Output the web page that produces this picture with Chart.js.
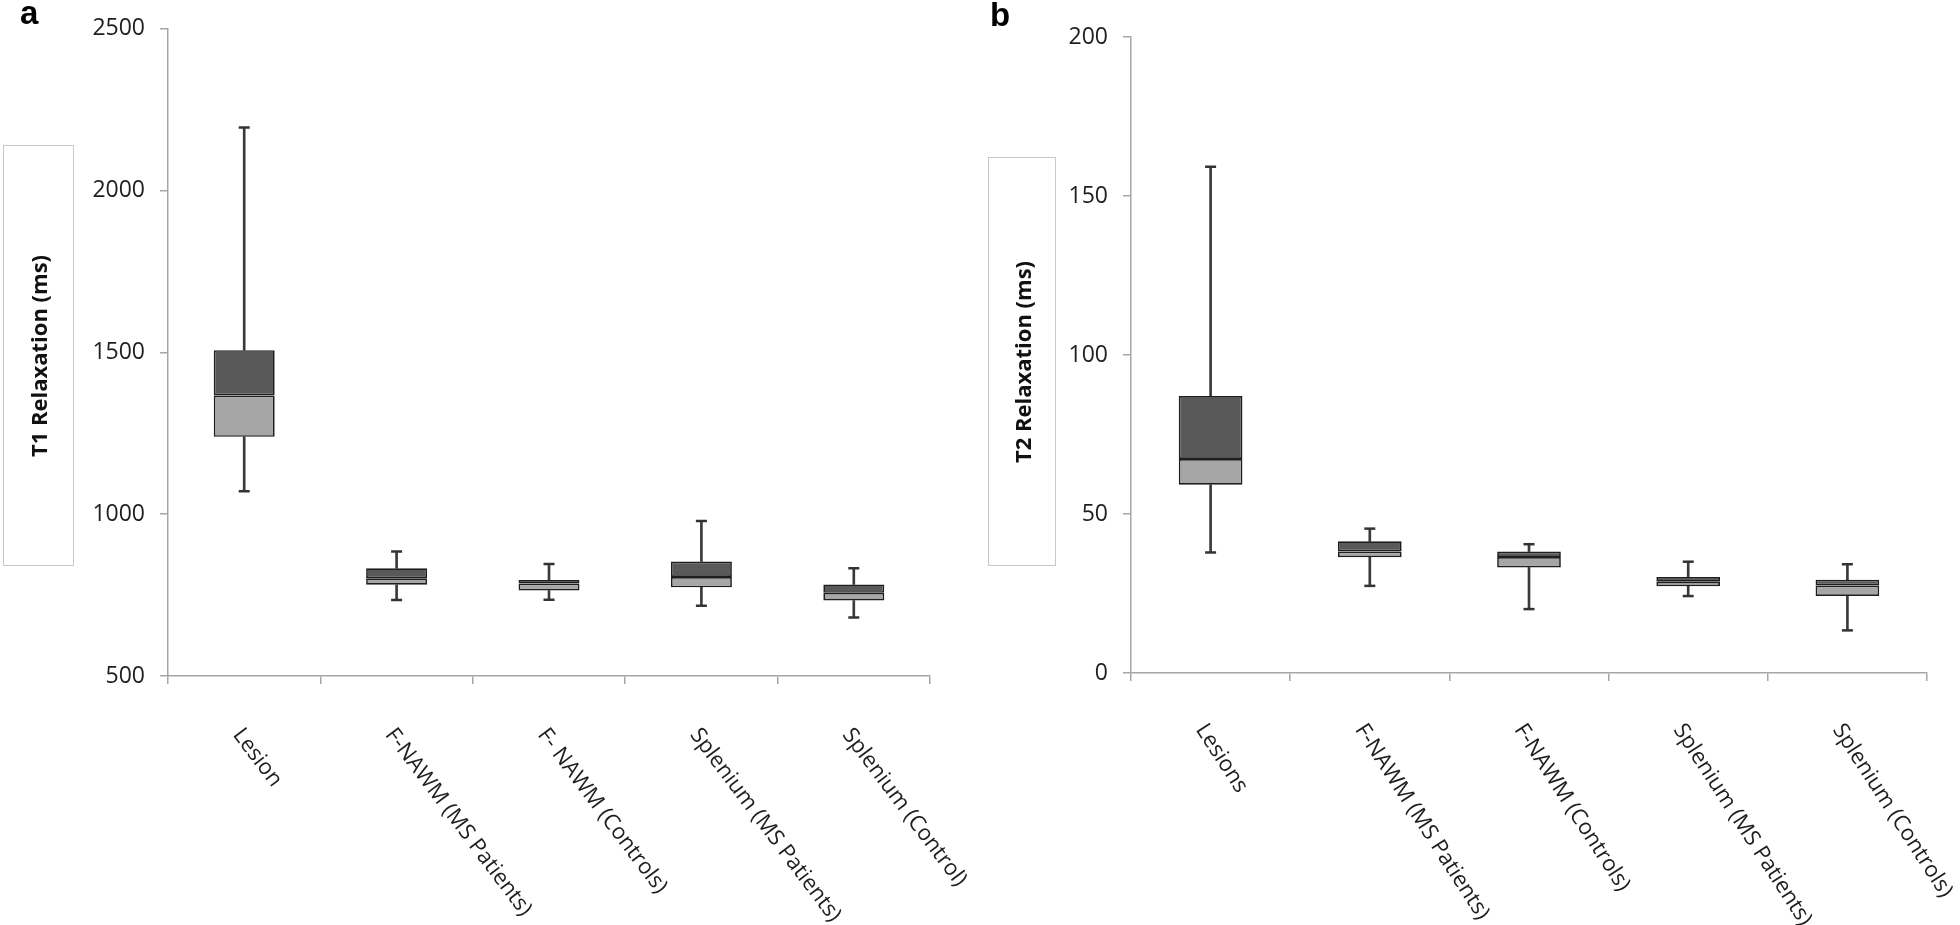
<!DOCTYPE html>
<html>
<head>
<meta charset="utf-8">
<script src="https://cdn.jsdelivr.net/npm/chart.js@4.4.1/dist/chart.umd.min.js"></script>
<style>
  body { margin: 0; background: #fff; width: 1960px; height: 925px; position: relative; overflow: hidden; }
  canvas { position: absolute; top: 0; }
  #chartA { left: 0; }
  #chartB { left: 960px; }
  .panel { position: absolute; font-family: "Liberation Sans", Arial, sans-serif; font-weight: bold; font-size: 33px; line-height: 1; }
  .ytitle { position: absolute; border: 1.5px solid #c8c8c8; box-sizing: border-box; display: flex; align-items: center; justify-content: center; }
  .ytitle span { display: inline-block; white-space: nowrap; transform: rotate(-90deg); font-family: "Open Sans", sans-serif; font-weight: bold; font-size: 22px; color: #111; }
</style>
</head>
<body>
<canvas id="chartA" width="1000" height="925"></canvas>
<canvas id="chartB" width="1000" height="925"></canvas>
<div class="panel" style="left:20px; top:-4px;">a</div>
<div class="panel" style="left:990px; top:-2px;">b</div>
<div class="ytitle" style="left:3px; top:145px; width:71px; height:421px;"><span>T1 Relaxation (ms)</span></div>
<div class="ytitle" style="left:988px; top:157px; width:68px; height:409px;"><span>T2 Relaxation (ms)</span></div>
<script>
// panel a - T1
const t1Labels = ['Lesion', 'F-NAWM (MS Patients)', 'F- NAWM (Controls)', 'Splenium (MS Patients)', 'Splenium (Control)'];
const t1Min = [1071, 735, 736, 717, 681];
const t1Q1 = [1239, 782, 764, 774, 733];
const t1Med = [1367, 802, 786, 806, 757];
const t1Q3 = [1507, 833, 797, 854, 783];
const t1Max = [2195, 885, 846, 979, 833];
const t1Ticks = [500, 1000, 1500, 2000, 2500];

// panel b - T2
const t2Labels = ['Lesions', 'F-NAWM (MS Patients)', 'F-NAWM (Controls)', 'Splenium (MS Patients)', 'Splenium (Controls)'];
const t2Min = [37.9, 27.4, 20.1, 24.2, 13.4];
const t2Q1 = [59.2, 36.4, 33.2, 27.3, 24.2];
const t2Med = [67.3, 38.2, 36.5, 28.7, 27.5];
const t2Q3 = [87.1, 41.4, 38.2, 30.2, 29.3];
const t2Max = [159.2, 45.4, 40.5, 35.0, 34.2];
const t2Ticks = [0, 50, 100, 150, 200];

const axisGrey = '#a6a6a6';
const textCol = '#1e1e1e';

// slanted category names, reading downwards
const slantLabels = {
  id: 'slantLabels',
  afterDraw(chart, args, opts) {
    const xs = chart.scales.x;
    const ctx = chart.ctx;
    ctx.save();
    ctx.font = '22px "Open Sans"';
    ctx.fillStyle = textCol;
    ctx.textAlign = 'left';
    ctx.textBaseline = 'middle';
    xs.getLabels().forEach(function (lab, i) {
      ctx.save();
      ctx.translate(xs.getPixelForValue(i) + opts.dx, xs.top + opts.dy);
      ctx.rotate(opts.angle * Math.PI / 180);
      ctx.fillText(lab, 0, 0);
      ctx.restore();
    });
    ctx.restore();
  }
};

function pairs(a, b) {
  return a.map(function (v, i) { return [v, b[i]]; });
}

function boxChart(id, labels, mins, q1s, meds, q3s, maxs, ticks, yWidth, pad, xHeight, slant) {
  return new Chart(document.getElementById(id), {
    type: 'bar',
    data: {
      labels: labels,
      datasets: [
        {
          data: pairs(meds, q3s),
          backgroundColor: '#595959',
          borderColor: '#1e1e1e',
          borderWidth: 1.7,
          borderSkipped: false,
          grouped: false,
          barPercentage: 0.4,
          categoryPercentage: 1
        },
        {
          data: pairs(q1s, meds),
          backgroundColor: '#a6a6a6',
          borderColor: '#1e1e1e',
          borderWidth: 1.7,
          borderSkipped: false,
          grouped: false,
          barPercentage: 0.4,
          categoryPercentage: 1
        },
        {
          type: 'line',
          data: maxs,
          showLine: false,
          pointStyle: 'line',
          pointRadius: 5.5,
          pointBorderWidth: 2.5,
          pointBorderColor: '#333'
        },
        {
          type: 'line',
          data: mins,
          showLine: false,
          pointStyle: 'line',
          pointRadius: 5.5,
          pointBorderWidth: 2.5,
          pointBorderColor: '#333'
        },
        {
          data: pairs(q3s, maxs),
          backgroundColor: '#3a3a3a',
          barThickness: 2,
          grouped: false
        },
        {
          data: pairs(mins, q1s),
          backgroundColor: '#3a3a3a',
          barThickness: 2,
          grouped: false
        }
      ]
    },
    plugins: [slantLabels],
    options: {
      responsive: false,
      animation: false,
      layout: { padding: pad },
      plugins: { legend: { display: false }, tooltip: { enabled: false }, slantLabels: slant },
      scales: {
        x: {
          grid: { drawOnChartArea: false, drawTicks: true, tickLength: 8, color: axisGrey, lineWidth: 1.5 },
          border: { display: true, color: axisGrey, width: 1.5 },
          ticks: { display: false },
          afterFit: function (s) { s.height = xHeight; }
        },
        y: {
          min: ticks[0],
          max: ticks[ticks.length - 1],
          afterBuildTicks: function (s) { s.ticks = ticks.map(function (v) { return { value: v }; }); },
          grid: { drawOnChartArea: false, drawTicks: true, tickLength: 8, color: axisGrey, lineWidth: 1.5 },
          border: { display: true, color: axisGrey, width: 1.5 },
          ticks: {
            padding: 15,
            color: textCol,
            font: { family: 'Open Sans', size: 23 },
            callback: function (v) { return String(v); }
          },
          afterFit: function (s) { s.width = yWidth; }
        }
      }
    }
  });
}

boxChart('chartA', t1Labels, t1Min, t1Q1, t1Med, t1Q3, t1Max, t1Ticks, 168,
  { top: 28, right: 70, left: 0, bottom: 0 }, 249, { angle: 53, dx: -7, dy: 55 });
boxChart('chartB', t2Labels, t2Min, t2Q1, t2Med, t2Q3, t2Max, t2Ticks, 171,
  { top: 37, right: 33, left: 0, bottom: 0 }, 252, { angle: 57, dx: -10, dy: 53 });
</script>
</body>
</html>
